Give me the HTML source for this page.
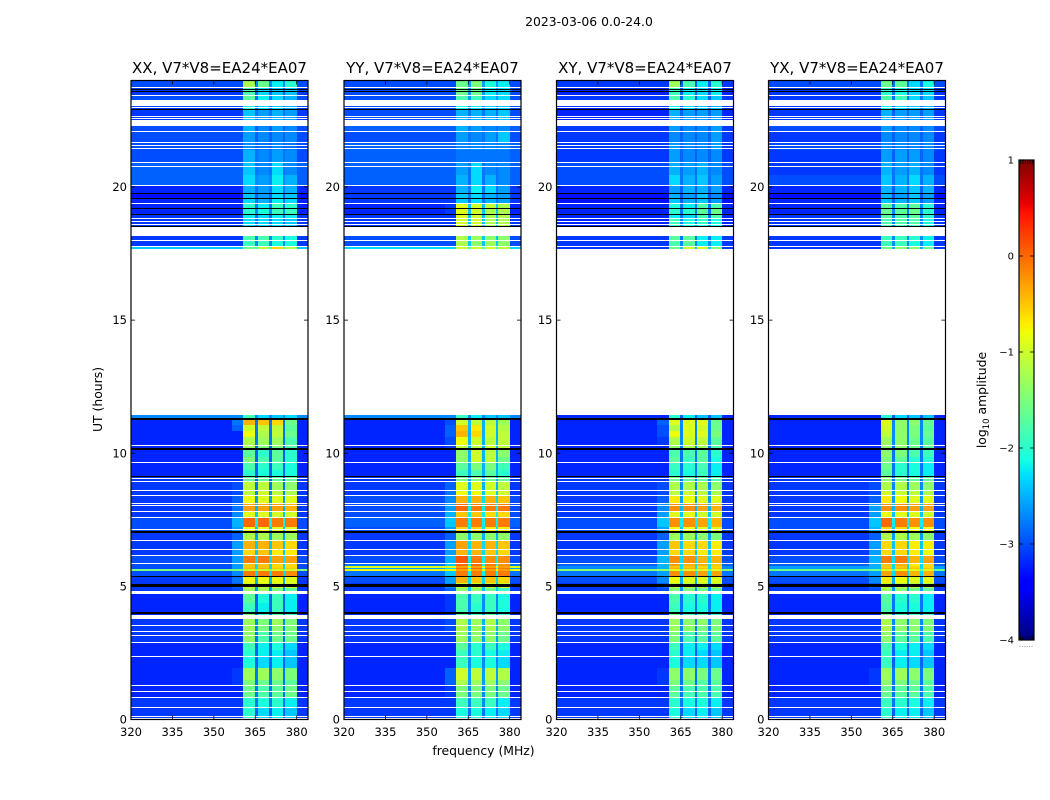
<!DOCTYPE html>
<html lang="en">
<head>
<meta charset="utf-8">
<title>2023-03-06 0.0-24.0</title>
<style>
html,body{margin:0;padding:0;background:#fff;}
svg{display:block;font-family:"DejaVu Sans","Liberation Sans",sans-serif;}
text{fill:#000;}
</style>
</head>
<body>
<svg id="chart" xmlns="http://www.w3.org/2000/svg" width="1050" height="800" viewBox="0 0 1050 800">
<rect x="0" y="0" width="1050" height="800" fill="#fff"/>
<text x="589" y="26" font-size="12.4" text-anchor="middle">2023-03-06 0.0-24.0</text>
<text x="483.5" y="755" font-size="12.4" text-anchor="middle">frequency (MHz)</text>
<text x="0" y="0" font-size="12.4" text-anchor="middle" transform="translate(102,399.5) rotate(-90)">UT (hours)</text>
<text x="0" y="0" font-size="12.4" text-anchor="middle" transform="translate(986,400) rotate(-90)">log<tspan font-size="8.5" dy="3">10</tspan><tspan dy="-3"> amplitude</tspan></text>
<g id="panels"></g>
<g id="colorbar"></g>
</svg>
<script>
// ---- data ----
const panelTitles = ['XX, V7*V8=EA24*EA07','YY, V7*V8=EA24*EA07','XY, V7*V8=EA24*EA07','YX, V7*V8=EA24*EA07'];
const xTickValues = [320,335,350,365,380];
const yTickValues = [0,5,10,15,20];
const colorbarTicks = [1,0,-1,-2,-3,-4];
// frequency column edges in MHz (out of band, ramp, four sub-bands with gaps)
const freqEdges = [320,356.5,360.7,364.9,365.9,370.1,371,375,375.8,380,384.1];
// which amplitude entry of a row each frequency column reads
const zoneOfColumn = [0,1,2,6,3,6,4,6,5,0];
// time row edges in UT hours
const utEdgesUpper = [24.00,23.76,23.46,23.27,23.00,22.89,22.67,22.29,22.07,21.65,21.39,20.90,20.45,20.04,19.77,19.55,19.40,19.17,18.99,18.80,18.50,18.16,18.01,17.75,17.67];
const utEdgesLower = [11.44,11.29,11.06,10.84,10.61,10.31,10.12,9.86,9.63,9.37,9.11,8.92,8.62,8.39,8.13,7.83,7.57,7.23,7.08,7.00,6.70,6.37,6.14,5.84,5.77,5.69,5.64,5.59,5.39,5.13,4.94,4.83,4.71,4.38,4.04,3.92,3.55,3.29,2.91,2.61,2.35,1.93,1.48,1.30,0.85,0.47,0.00];
// no-data (white) time ranges [high, low] UT
const blankRanges = [[23.75,23.72],[23.46,23.43],[23.27,23.04],[23.02,22.99],[22.67,22.64],[22.58,22.55],[22.53,22.29],[22.09,22.06],[21.68,21.65],[21.59,21.56],[21.45,21.42],[20.93,20.90],[20.80,20.77],[20.06,20.03],[19.41,19.38],[18.82,18.79],[18.72,18.69],[18.61,18.58],[18.51,18.16],[18.01,17.98],[17.77,17.74],[17.67,11.44],[10.30,10.27],[10.15,10.12],[9.67,9.64],[9.07,9.04],[8.97,8.94],[8.62,8.59],[8.42,8.39],[8.13,8.10],[8.07,8.04],[7.84,7.81],[7.62,7.57],[7.16,7.13],[6.74,6.71],[6.41,6.38],[6.18,6.15],[5.88,5.85],[4.83,4.71],[3.92,3.78],[3.55,3.52],[3.31,3.28],[3.18,3.15],[2.91,2.88],[2.37,2.34],[1.30,1.27],[1.07,1.04],[0.85,0.82],[0.47,0.44],[0.12,0.09],[0.04,0.01]];
// zero-amplitude (black) time ranges [high, low] UT
const zeroRanges = [[23.67,23.63],[23.61,23.58],[22.92,22.88],[19.77,19.74],[19.57,19.54],[19.20,19.17],[18.99,18.96],[18.54,18.51],[11.31,11.26],[10.20,10.14],[9.14,9.10],[7.08,6.99],[5.39,5.36],[5.09,4.96],[4.04,3.98]];
// log10 amplitude per time row: [out-of-band, ramp, band1, band2, band3, band4, band-gap]
const amplitudeXX = [
[-3.0,-3.0,-1.2,-1.6,-2.2,-2.0,-2.7],[-3.1,-3.1,-1.8,-2.3,-2.4,-2.4,-2.9],[-3.0,-3.0,-1.7,-2.2,-2.3,-2.5,-2.8],[-3.0,-3.0,-2.2,-2.3,-2.4,-2.5,-2.8],
[-3.1,-3.1,-1.9,-2.3,-2.3,-2.5,-2.8],[-3.1,-3.1,-2.4,-2.6,-2.5,-2.6,-2.8],[-3.1,-3.1,-2.4,-2.6,-2.5,-2.6,-2.8],[-3.0,-3.0,-2.5,-2.7,-2.6,-2.7,-2.9],
[-3.0,-3.0,-2.6,-2.7,-2.7,-2.7,-2.9],[-3.0,-3.0,-2.7,-2.8,-2.7,-2.8,-2.9],[-3.0,-3.0,-2.5,-2.7,-2.6,-2.7,-2.8],[-2.9,-2.9,-2.4,-2.7,-2.3,-2.7,-2.8],
[-2.9,-2.9,-2.3,-2.6,-2.2,-2.5,-2.7],[-3.2,-3.2,-2.5,-2.6,-2.3,-2.5,-2.8],[-3.3,-3.3,-2.4,-2.6,-2.3,-2.4,-2.9],[-3.2,-3.2,-2.3,-2.5,-2.2,-2.3,-2.8],
[-3.2,-3.2,-2.0,-2.2,-1.9,-2.0,-2.8],[-3.2,-3.2,-2.0,-2.1,-1.9,-1.9,-2.7],[-3.1,-3.1,-2.2,-2.3,-2.2,-2.2,-2.8],[-3.1,-3.1,-2.3,-2.3,-2.3,-2.4,-2.8],
[-3.1,-3.1,-2.3,-2.3,-2.3,-2.4,-2.8],[-3.1,-3.1,-1.8,-1.8,-2.0,-2.1,-2.7],[-3.1,-3.1,-1.9,-1.9,-2.1,-2.1,-2.7],[-2.4,-2.4,-1.6,-1.1,-0.6,-1.2,-1.8],
[-2.7,-2.7,-1.9,-2.3,-2.4,-2.3,-2.7],[-3.2,-2.8,-0.4,-0.5,-0.6,-1.6,-2.8],[-3.2,-2.9,-1.0,-1.1,-1.1,-1.7,-2.8],[-3.2,-3.2,-0.8,-1.2,-1.1,-1.6,-2.8],
[-3.2,-3.2,-1.2,-1.3,-1.3,-1.8,-2.8],[-3.2,-3.2,-1.3,-1.5,-1.5,-1.8,-2.9],[-3.2,-3.2,-1.7,-2.0,-1.7,-2.0,-2.9],[-3.2,-3.2,-1.5,-1.8,-1.7,-2.0,-2.9],
[-3.2,-3.2,-1.8,-2.0,-1.9,-2.1,-2.9],[-3.2,-3.2,-2.0,-2.1,-2.1,-2.1,-2.9],[-3.1,-3.1,-1.7,-1.7,-1.7,-1.7,-2.9],[-3.1,-3.0,-1.1,-1.1,-1.3,-1.4,-2.8],
[-3.1,-3.0,-1.1,-1.0,-1.1,-1.2,-2.7],[-3.1,-2.9,-0.8,-0.9,-0.9,-0.9,-2.6],[-3.1,-2.8,-0.3,-0.3,-0.3,-0.4,-2.5],[-3.1,-2.7,-0.9,-0.9,-1.0,-1.0,-2.4],
[-3.0,-2.5,0.0,0.0,-0.1,-0.1,-2.2],[-3.0,-2.6,-0.8,-0.8,-0.9,-0.9,-2.4],[-3.2,-3.1,-2.0,-2.0,-2.0,-2.0,-3.0],[-3.1,-2.9,-1.2,-1.2,-1.3,-1.3,-2.6],
[-3.1,-2.6,-0.4,-0.4,-0.5,-0.6,-2.4],[-3.1,-2.6,-0.6,-0.5,-0.7,-0.7,-2.4],[-3.0,-2.6,-0.1,-0.1,-0.3,-0.3,-2.3],[-3.0,-2.6,-0.5,-0.5,-0.6,-0.6,-2.3],
[-3.0,-2.6,-0.5,-0.5,-0.6,-0.6,-2.3],[-3.0,-2.6,-0.4,-0.4,-0.5,-0.5,-2.3],[-1.5,-1.5,-1.0,-1.0,-1.0,-1.0,-1.5],[-3.0,-2.7,-0.1,-0.1,-0.1,-0.2,-2.3],
[-3.1,-2.8,-0.8,-0.8,-0.8,-0.9,-2.5],[-3.1,-2.9,-1.0,-1.0,-1.0,-1.0,-2.6],[-3.1,-3.0,-1.3,-1.3,-1.5,-1.7,-2.6],[-3.1,-3.0,-1.3,-1.3,-1.5,-1.7,-2.6],
[-3.2,-3.2,-1.7,-2.1,-1.9,-2.2,-2.9],[-3.2,-3.2,-1.9,-2.2,-1.9,-2.2,-2.9],[-3.2,-3.2,-1.5,-2.0,-1.7,-1.9,-2.8],[-3.1,-3.1,-1.3,-1.5,-1.3,-1.5,-2.7],
[-3.1,-3.1,-1.3,-1.5,-1.4,-1.5,-2.7],[-3.1,-3.1,-1.4,-1.8,-1.6,-1.6,-2.8],[-3.2,-3.2,-1.9,-2.2,-2.1,-2.3,-2.9],[-3.2,-3.2,-2.0,-2.2,-2.2,-2.4,-2.9],
[-3.2,-3.2,-2.1,-2.3,-2.2,-2.4,-2.9],[-3.2,-3.1,-1.3,-1.3,-1.4,-1.5,-2.8],[-3.2,-3.1,-1.5,-1.6,-1.6,-1.7,-2.8],[-3.2,-3.2,-1.6,-1.8,-1.7,-1.6,-2.8],
[-3.1,-3.1,-2.0,-2.1,-2.0,-2.2,-2.8],[-3.1,-3.1,-2.0,-2.3,-2.2,-2.4,-2.9]
];
const amplitudeYY = [
[-3.0,-3.0,-1.6,-1.5,-2.1,-2.2,-2.6],[-3.0,-3.0,-1.6,-1.6,-2.2,-2.3,-2.6],[-3.0,-3.0,-1.8,-1.9,-2.3,-2.3,-2.6],[-3.0,-3.0,-2.1,-2.2,-2.3,-2.4,-2.7],
[-3.0,-3.0,-2.2,-2.3,-2.4,-2.4,-2.8],[-3.0,-3.0,-2.5,-2.5,-2.5,-2.4,-2.8],[-3.0,-3.0,-2.5,-2.5,-2.5,-2.4,-2.8],[-2.9,-2.9,-2.5,-2.6,-2.7,-2.7,-2.8],
[-3.0,-3.0,-2.6,-2.7,-2.6,-2.4,-2.8],[-2.9,-2.9,-2.7,-2.7,-2.7,-2.7,-2.8],[-2.9,-2.9,-2.8,-2.8,-2.8,-2.8,-2.8],[-2.9,-2.9,-2.6,-2.3,-2.7,-2.7,-2.8],
[-2.9,-2.9,-2.5,-2.3,-2.5,-2.7,-2.8],[-3.1,-3.1,-2.5,-2.2,-2.3,-2.6,-2.8],[-3.1,-3.1,-2.4,-2.3,-2.5,-2.6,-2.8],[-3.1,-3.1,-2.4,-2.3,-2.5,-2.6,-2.8],
[-3.2,-3.1,-0.9,-1.0,-1.1,-1.2,-2.4],[-3.2,-3.1,-0.9,-1.0,-1.2,-1.2,-2.4],[-3.1,-3.1,-0.9,-1.0,-1.2,-1.2,-2.4],[-3.1,-3.1,-1.0,-1.0,-1.2,-1.2,-2.4],
[-3.1,-3.1,-1.0,-1.0,-1.2,-1.2,-2.4],[-3.0,-3.0,-1.2,-1.3,-1.4,-1.4,-2.4],[-3.0,-3.0,-1.2,-1.4,-1.3,-1.4,-2.4],[-2.3,-2.3,-1.0,-1.0,-1.0,-1.1,-1.8],
[-2.7,-2.7,-1.9,-2.2,-2.4,-2.4,-2.7],[-3.2,-3.0,-1.0,-1.1,-1.1,-1.3,-2.5],[-3.2,-2.9,-0.5,-0.7,-1.0,-1.2,-2.5],[-3.2,-2.9,-0.4,-0.6,-1.0,-1.1,-2.5],
[-3.2,-3.0,-0.8,-1.0,-1.1,-1.1,-2.5],[-3.2,-3.1,-1.1,-1.1,-1.0,-1.1,-2.5],[-3.2,-3.2,-1.4,-1.0,-1.1,-1.4,-2.5],[-3.2,-3.2,-1.4,-1.0,-1.1,-1.6,-2.5],
[-3.2,-3.2,-1.7,-1.5,-1.5,-1.9,-2.5],[-3.2,-3.2,-1.9,-1.8,-1.7,-2.0,-2.5],[-3.1,-3.1,-1.6,-1.5,-1.6,-1.7,-2.5],[-3.1,-2.9,-0.9,-0.9,-1.0,-1.1,-2.5],
[-3.1,-2.8,-0.8,-0.8,-0.9,-1.0,-2.4],[-3.0,-2.7,-0.4,-0.4,-0.4,-0.5,-2.3],[-3.0,-2.6,0.0,-0.1,-0.1,-0.1,-2.2],[-3.0,-2.5,-0.5,-0.5,-0.6,-0.6,-2.2],
[-2.9,-2.4,-0.1,-0.1,-0.1,-0.1,-2.2],[-3.0,-2.6,-0.6,-0.6,-0.7,-0.7,-2.3],[-3.2,-3.1,-2.0,-2.0,-2.0,-2.0,-3.0],[-3.1,-2.9,-1.4,-1.4,-1.4,-1.4,-2.5],
[-3.1,-2.6,-0.3,-0.4,-0.4,-0.5,-2.3],[-3.1,-2.6,-0.4,-0.4,-0.5,-0.6,-2.3],[-3.0,-2.5,0.1,-0.1,-0.2,-0.2,-2.2],[-2.8,-2.4,0.0,0.0,-0.1,-0.2,-2.1],
[-0.9,-0.9,-0.3,-0.3,-0.3,-0.3,-0.9],[-2.6,-2.3,0.0,0.0,0.0,-0.1,-2.1],[-0.8,-0.8,-0.3,-0.3,-0.3,-0.3,-0.8],[-2.8,-2.4,-0.1,-0.1,-0.1,-0.1,-2.2],
[-3.0,-2.6,-0.4,-0.5,-0.5,-0.6,-2.3],[-3.1,-2.7,-1.0,-1.0,-1.0,-1.0,-2.4],[-3.1,-2.9,-1.4,-1.4,-1.6,-1.9,-2.4],[-3.1,-2.9,-1.4,-1.4,-1.6,-1.9,-2.4],
[-3.2,-3.1,-1.8,-1.9,-1.9,-2.1,-2.7],[-3.2,-3.1,-1.8,-2.0,-1.9,-2.1,-2.7],[-3.2,-3.1,-1.7,-1.9,-1.7,-1.9,-2.6],[-3.1,-3.0,-1.2,-1.3,-1.2,-1.4,-2.5],
[-3.1,-3.0,-1.2,-1.3,-1.2,-1.4,-2.5],[-3.1,-3.1,-1.3,-1.4,-1.4,-1.6,-2.6],[-3.2,-3.2,-1.7,-2.0,-1.9,-2.1,-2.7],[-3.2,-3.2,-1.9,-2.0,-2.1,-2.2,-2.7],
[-3.2,-3.2,-1.9,-2.1,-2.1,-2.3,-2.7],[-3.2,-2.9,-1.0,-1.1,-1.1,-1.2,-2.6],[-3.2,-2.9,-1.2,-1.3,-1.3,-1.4,-2.6],[-3.2,-3.1,-1.5,-1.5,-1.5,-1.6,-2.7],
[-3.1,-3.1,-1.9,-1.9,-1.9,-2.2,-2.7],[-3.1,-3.1,-2.1,-2.1,-2.2,-2.3,-2.8]
];
const amplitudeXY = [
[-3.1,-3.1,-1.3,-1.8,-2.2,-2.0,-2.9],[-3.2,-3.2,-1.9,-2.2,-2.3,-2.2,-2.9],[-3.1,-3.1,-1.8,-2.0,-2.3,-2.4,-2.9],[-3.1,-3.1,-2.2,-2.3,-2.4,-2.5,-2.9],
[-3.2,-3.2,-2.0,-2.3,-2.3,-2.4,-2.9],[-3.2,-3.2,-2.5,-2.6,-2.6,-2.6,-2.9],[-3.2,-3.2,-2.5,-2.6,-2.6,-2.6,-2.9],[-3.1,-3.1,-2.6,-2.7,-2.7,-2.6,-2.9],
[-3.1,-3.1,-2.7,-2.7,-2.7,-2.6,-2.9],[-3.1,-3.1,-2.6,-2.7,-2.7,-2.6,-2.9],[-3.1,-3.1,-2.6,-2.7,-2.7,-2.7,-2.9],[-3.0,-3.0,-2.5,-2.6,-2.5,-2.7,-2.8],
[-3.0,-3.0,-2.3,-2.5,-2.4,-2.6,-2.8],[-3.2,-3.2,-2.6,-2.5,-2.5,-2.6,-2.9],[-3.3,-3.3,-2.5,-2.6,-2.4,-2.7,-3.0],[-3.3,-3.3,-2.4,-2.5,-2.4,-2.6,-2.9],
[-3.2,-3.2,-2.1,-2.2,-1.8,-1.8,-2.8],[-3.2,-3.2,-2.0,-2.0,-1.7,-1.6,-2.8],[-3.2,-3.2,-2.2,-2.3,-1.9,-1.8,-2.8],[-3.2,-3.2,-1.9,-2.1,-2.0,-2.1,-2.7],
[-3.2,-3.2,-1.9,-2.1,-2.0,-2.1,-2.7],[-3.1,-3.1,-1.7,-1.7,-2.2,-2.2,-2.8],[-3.1,-3.1,-1.8,-1.7,-2.2,-2.2,-2.7],[-3.1,-3.1,-1.6,-1.0,-0.9,-1.5,-2.4],
[-3.2,-3.2,-2.0,-2.2,-2.4,-2.4,-2.9],[-3.2,-2.9,-0.9,-0.9,-0.9,-1.6,-2.7],[-3.2,-3.0,-1.2,-0.9,-1.0,-1.6,-2.7],[-3.2,-3.0,-0.8,-0.9,-0.9,-1.5,-2.7],
[-3.2,-3.1,-1.2,-1.0,-1.1,-1.7,-2.7],[-3.2,-3.2,-1.4,-1.2,-1.3,-1.8,-2.8],[-3.2,-3.2,-1.8,-1.8,-1.7,-2.0,-2.8],[-3.2,-3.2,-1.7,-1.9,-1.7,-2.1,-2.8],
[-3.2,-3.2,-1.9,-2.0,-1.8,-2.2,-2.8],[-3.2,-3.2,-2.0,-2.1,-1.9,-2.2,-2.8],[-3.1,-3.1,-1.6,-1.7,-1.7,-1.8,-2.8],[-3.1,-3.0,-1.2,-1.2,-1.2,-1.4,-2.7],
[-3.1,-3.0,-1.1,-1.0,-1.1,-1.2,-2.6],[-3.1,-2.9,-0.7,-0.8,-0.9,-0.9,-2.6],[-3.1,-2.7,-0.2,-0.2,-0.3,-0.4,-2.5],[-3.1,-2.6,-0.9,-0.9,-1.0,-1.0,-2.4],
[-3.0,-2.4,-0.2,-0.2,-0.3,-0.4,-2.2],[-3.0,-2.6,-0.8,-0.8,-0.9,-0.9,-2.4],[-3.2,-3.1,-2.0,-2.0,-2.0,-2.0,-3.0],[-3.1,-2.9,-1.3,-1.3,-1.4,-1.5,-2.6],
[-3.1,-2.6,-0.5,-0.6,-0.6,-0.7,-2.4],[-3.1,-2.6,-0.6,-0.6,-0.7,-0.7,-2.4],[-3.0,-2.5,-0.2,-0.2,-0.4,-0.4,-2.3],[-2.9,-2.5,-0.3,-0.4,-0.4,-0.5,-2.3],
[-2.7,-2.5,-0.5,-0.5,-0.6,-0.6,-2.3],[-2.7,-2.5,-0.4,-0.4,-0.5,-0.5,-2.3],[-1.4,-1.4,-0.9,-0.9,-0.9,-0.9,-1.4],[-2.8,-2.6,-0.2,-0.2,-0.3,-0.3,-2.3],
[-3.0,-2.7,-0.8,-0.9,-0.9,-0.9,-2.5],[-3.1,-2.9,-1.1,-1.1,-1.1,-1.1,-2.6],[-3.1,-3.0,-1.5,-1.5,-1.6,-1.7,-2.6],[-3.1,-3.0,-1.5,-1.5,-1.6,-1.7,-2.6],
[-3.2,-3.2,-1.8,-2.0,-2.0,-2.2,-2.8],[-3.2,-3.2,-1.9,-2.1,-2.1,-2.2,-2.8],[-3.2,-3.2,-1.6,-1.9,-1.8,-1.9,-2.8],[-3.1,-3.1,-1.3,-1.4,-1.4,-1.5,-2.7],
[-3.1,-3.1,-1.3,-1.4,-1.5,-1.5,-2.7],[-3.1,-3.1,-1.5,-1.8,-1.7,-1.7,-2.8],[-3.2,-3.2,-1.9,-2.2,-2.2,-2.3,-2.9],[-3.2,-3.2,-2.0,-2.2,-2.3,-2.4,-2.9],
[-3.2,-3.2,-2.1,-2.3,-2.3,-2.4,-2.9],[-3.2,-3.1,-1.4,-1.4,-1.5,-1.6,-2.8],[-3.2,-3.1,-1.5,-1.6,-1.7,-1.7,-2.8],[-3.2,-3.2,-1.7,-1.8,-1.8,-1.8,-2.8],
[-3.1,-3.1,-2.0,-2.1,-2.1,-2.2,-2.8],[-3.1,-3.1,-2.1,-2.3,-2.2,-2.4,-2.9]
];
const amplitudeYX = [
[-3.0,-3.0,-1.6,-1.7,-2.3,-2.1,-2.8],[-3.1,-3.1,-2.0,-2.1,-2.3,-2.3,-2.8],[-3.1,-3.1,-1.8,-1.9,-2.3,-2.4,-2.8],[-3.1,-3.1,-2.2,-2.3,-2.4,-2.5,-2.8],
[-3.1,-3.1,-2.1,-2.3,-2.4,-2.5,-2.8],[-3.1,-3.1,-2.5,-2.6,-2.6,-2.6,-2.9],[-3.1,-3.1,-2.5,-2.6,-2.6,-2.6,-2.9],[-3.0,-3.0,-2.6,-2.7,-2.7,-2.7,-2.9],
[-3.1,-3.1,-2.7,-2.7,-2.7,-2.7,-2.9],[-3.0,-3.0,-2.7,-2.7,-2.7,-2.7,-2.9],[-3.1,-3.1,-2.6,-2.6,-2.6,-2.7,-2.9],[-3.1,-3.1,-2.5,-2.6,-2.5,-2.7,-2.8],
[-3.0,-3.0,-2.4,-2.5,-2.3,-2.5,-2.8],[-3.2,-3.2,-2.5,-2.5,-2.4,-2.5,-2.9],[-3.3,-3.3,-2.5,-2.6,-2.4,-2.6,-3.0],[-3.2,-3.2,-2.4,-2.5,-2.4,-2.6,-2.9],
[-3.2,-3.2,-1.7,-1.8,-1.7,-2.0,-2.7],[-3.2,-3.2,-1.6,-1.7,-1.6,-2.0,-2.7],[-3.1,-3.1,-1.7,-1.8,-1.7,-2.0,-2.7],[-3.1,-3.1,-1.8,-1.8,-1.8,-2.1,-2.7],
[-3.1,-3.1,-1.8,-1.8,-1.8,-2.1,-2.7],[-3.1,-3.1,-1.9,-1.9,-2.0,-2.2,-2.7],[-3.1,-3.1,-1.9,-1.9,-2.1,-2.2,-2.7],[-3.1,-3.1,-1.6,-1.4,-1.4,-1.6,-2.5],
[-3.2,-3.2,-2.0,-2.3,-2.4,-2.4,-2.9],[-3.2,-3.2,-0.9,-1.4,-1.4,-1.6,-2.7],[-3.2,-3.2,-1.0,-1.4,-1.5,-1.7,-2.7],[-3.2,-3.2,-1.1,-1.4,-1.5,-1.6,-2.7],
[-3.2,-3.2,-1.3,-1.4,-1.6,-1.7,-2.7],[-3.2,-3.2,-1.4,-1.4,-1.6,-1.7,-2.8],[-3.2,-3.2,-1.4,-1.5,-1.8,-1.9,-2.8],[-3.2,-3.2,-1.5,-1.7,-2.0,-2.0,-2.8],
[-3.2,-3.2,-1.6,-2.0,-2.1,-2.2,-2.8],[-3.2,-3.2,-1.7,-2.0,-2.1,-2.2,-2.8],[-3.1,-3.1,-1.4,-1.6,-1.7,-1.7,-2.8],[-3.1,-3.0,-1.2,-1.2,-1.3,-1.4,-2.7],
[-3.1,-3.0,-1.0,-1.0,-1.1,-1.2,-2.6],[-3.1,-2.9,-0.7,-0.8,-0.9,-0.9,-2.6],[-3.1,-2.6,-0.2,-0.2,-0.3,-0.3,-2.5],[-3.1,-2.6,-0.8,-0.9,-0.9,-1.0,-2.4],
[-3.0,-2.4,0.0,-0.1,-0.2,-0.2,-2.2],[-3.0,-2.5,-0.6,-0.6,-0.8,-0.8,-2.4],[-3.2,-3.1,-2.0,-2.0,-2.0,-2.0,-3.0],[-3.1,-2.9,-1.2,-1.2,-1.3,-1.4,-2.6],
[-3.1,-2.6,-0.6,-0.6,-0.7,-0.7,-2.4],[-3.1,-2.6,-0.6,-0.6,-0.7,-0.8,-2.4],[-3.0,-2.5,-0.1,-0.1,-0.4,-0.3,-2.3],[-2.9,-2.5,-0.5,-0.4,-0.7,-0.6,-2.3],
[-2.6,-2.5,-0.5,-0.5,-0.6,-0.6,-2.3],[-2.6,-2.5,-0.4,-0.4,-0.5,-0.5,-2.3],[-1.6,-1.6,-0.9,-0.9,-0.9,-0.9,-1.6],[-2.8,-2.6,-0.3,-0.2,-0.4,-0.4,-2.3],
[-3.0,-2.7,-0.7,-0.8,-0.9,-0.9,-2.5],[-3.1,-2.9,-1.0,-1.1,-1.1,-1.1,-2.6],[-3.1,-3.0,-1.3,-1.4,-1.6,-1.7,-2.6],[-3.1,-3.0,-1.3,-1.4,-1.6,-1.7,-2.6],
[-3.2,-3.2,-1.7,-2.0,-2.0,-2.2,-2.8],[-3.2,-3.2,-1.8,-2.1,-2.1,-2.2,-2.8],[-3.2,-3.2,-1.5,-1.9,-1.8,-1.9,-2.8],[-3.1,-3.1,-1.2,-1.4,-1.4,-1.5,-2.7],
[-3.1,-3.1,-1.2,-1.4,-1.4,-1.5,-2.7],[-3.1,-3.1,-1.4,-1.7,-1.7,-1.8,-2.8],[-3.2,-3.2,-1.8,-2.1,-2.2,-2.3,-2.9],[-3.2,-3.2,-1.9,-2.2,-2.2,-2.4,-2.9],
[-3.2,-3.2,-1.9,-2.2,-2.3,-2.4,-2.9],[-3.2,-3.1,-1.3,-1.3,-1.4,-1.5,-2.8],[-3.2,-3.1,-1.4,-1.5,-1.6,-1.7,-2.8],[-3.2,-3.2,-1.6,-1.7,-1.7,-1.8,-2.8],
[-3.1,-3.1,-1.9,-2.0,-2.1,-2.2,-2.8],[-3.1,-3.1,-2.0,-2.2,-2.2,-2.4,-2.9]
];

// ---- layout and axes ----
const NS = 'http://www.w3.org/2000/svg';
const panelLefts = [131,344,556.5,768.5];
const panelWidth = 177;
const plotTop = 80.5, plotBottom = 719.5;
const freqMin = 320, freqMax = 384.1, utMin = 0, utMax = 24;
const cbLeft = 1019, cbRight = 1034, cbTop = 160, cbBottom = 640, cbMin = -4, cbMax = 1;

function xScale(left, mhz){ return left + (mhz - freqMin) / (freqMax - freqMin) * panelWidth; }
function yScale(ut){ return plotBottom - (ut - utMin) / (utMax - utMin) * (plotBottom - plotTop); }
function cbScale(v){ return cbBottom - (v - cbMin) / (cbMax - cbMin) * (cbBottom - cbTop); }

function lerpStops(t, stops){
  for (let i = 1; i < stops.length; i++) {
    if (t <= stops[i][0]) {
      const a = stops[i-1], b = stops[i];
      return a[1] + (b[1] - a[1]) * (t - a[0]) / (b[0] - a[0]);
    }
  }
  return stops[stops.length-1][1];
}
const jetR = [[0,0],[0.35,0],[0.66,1],[0.89,1],[1,0.5]];
const jetG = [[0,0],[0.125,0],[0.375,1],[0.64,1],[0.91,0],[1,0]];
const jetB = [[0,0.5],[0.11,1],[0.34,1],[0.65,0],[1,0]];
function jet(v){
  const t = Math.max(0, Math.min(1, (v - cbMin) / (cbMax - cbMin)));
  return 'rgb(' + Math.round(255*lerpStops(t,jetR)) + ',' + Math.round(255*lerpStops(t,jetG)) + ',' + Math.round(255*lerpStops(t,jetB)) + ')';
}
function shape(parent, tag, attrs){
  const el = document.createElementNS(NS, tag);
  for (const k in attrs) el.setAttribute(k, attrs[k]);
  parent.appendChild(el);
  return el;
}

const panelsGroup = document.getElementById('panels');
const allAmplitudes = [amplitudeXX, amplitudeYY, amplitudeXY, amplitudeYX];
const panelKeys = ['xx','yy','xy','yx'];
const rowSpans = [];
for (let i = 0; i + 1 < utEdgesUpper.length; i++) rowSpans.push([utEdgesUpper[i], utEdgesUpper[i+1]]);
for (let i = 0; i + 1 < utEdgesLower.length; i++) rowSpans.push([utEdgesLower[i], utEdgesLower[i+1]]);

function drawBand(group, left, range, fill, name){
  const y0 = Math.round(yScale(range[0]));
  const y1 = Math.round(yScale(range[1]));
  const r = shape(group, 'rect', {x:left, y:y0, width:panelWidth, height:Math.max(1, y1 - y0), fill:fill, 'shape-rendering':'crispEdges'});
  
  
}

panelTitles.forEach(function(title, p){
  const left = panelLefts[p];
  const group = shape(panelsGroup, 'g', {});
  
  

  const heat = shape(group, 'g', {});
  
  
  allAmplitudes[p].forEach(function(row, r){
    const y0 = Math.round(yScale(rowSpans[r][0]));
    const y1 = Math.round(yScale(rowSpans[r][1]));
    zoneOfColumn.forEach(function(zone, c){
      const x0 = Math.round(xScale(left, freqEdges[c]));
      const x1 = Math.round(xScale(left, freqEdges[c+1]));
      const cell = shape(heat, 'rect', {x:x0, y:y0, width:x1-x0, height:y1-y0, fill:jet(row[zone]), 'shape-rendering':'crispEdges'});
      
      
    });
  });
  blankRanges.forEach(function(range){ drawBand(group, left, range, '#fff', 'no-data-gap'); });
  zeroRanges.forEach(function(range){ drawBand(group, left, range, '#000', 'zero-amplitude-row'); });

  const frame = shape(group, 'rect', {x:left, y:plotTop, width:panelWidth, height:plotBottom-plotTop, fill:'none', stroke:'#000', 'stroke-width':1.2});
  
  

  const titleEl = shape(group, 'text', {x:left+panelWidth/2, y:73, 'font-size':15, 'text-anchor':'middle'});
  titleEl.textContent = title;
  
  

  xTickValues.forEach(function(v){
    const x = xScale(left, v);
    const bottomTick = shape(group, 'line', {x1:x, x2:x, y1:plotBottom, y2:plotBottom-4, stroke:'#000', 'stroke-width':0.8});
    
    
    const topTick = shape(group, 'line', {x1:x, x2:x, y1:plotTop, y2:plotTop+4, stroke:'#000', 'stroke-width':0.8});
    
    
    const label = shape(group, 'text', {x:x, y:736, 'font-size':11.5, 'text-anchor':'middle'});
    label.textContent = String(v);
    
    
  });
  yTickValues.forEach(function(v){
    const y = yScale(v);
    const leftTick = shape(group, 'line', {x1:left, x2:left+4, y1:y, y2:y, stroke:'#000', 'stroke-width':0.8});
    
    
    const rightTick = shape(group, 'line', {x1:left+panelWidth, x2:left+panelWidth-4, y1:y, y2:y, stroke:'#000', 'stroke-width':0.8});
    
    
    const label = shape(group, 'text', {x:left-4, y:y+4, 'font-size':11.5, 'text-anchor':'end'});
    label.textContent = String(v);
    
    
  });
});

// ---- colorbar ----
const cb = document.getElementById('colorbar');
for (let py = cbTop; py < cbBottom; py += 2) {
  const v = cbMax - (py + 1 - cbTop) / (cbBottom - cbTop) * (cbMax - cbMin);
  const seg = shape(cb, 'rect', {x:cbLeft, y:py, width:cbRight-cbLeft, height:2, fill:jet(v), 'shape-rendering':'crispEdges'});
  
  
}
const cbFrame = shape(cb, 'rect', {x:cbLeft, y:cbTop, width:cbRight-cbLeft, height:cbBottom-cbTop, fill:'none', stroke:'#000', 'stroke-width':1.2});


colorbarTicks.forEach(function(v){
  const y = cbScale(v);
  const tl = shape(cb, 'line', {x1:cbLeft, x2:cbLeft+4, y1:y, y2:y, stroke:'#000', 'stroke-width':0.8});
  
  
  const tr = shape(cb, 'line', {x1:cbRight, x2:cbRight-4, y1:y, y2:y, stroke:'#000', 'stroke-width':0.8});
  
  
  const label = shape(cb, 'text', {x:cbLeft-5, y:y+3.5, 'font-size':10, 'text-anchor':'end'});
  label.textContent = v < 0 ? '\u2212' + Math.abs(v) : String(v);
  
  
});
for (let i = 0; i < 6; i++) {
  const x = cbLeft + 1.5 + i * 2.4;
  const topT = shape(cb, 'line', {x1:x, x2:x, y1:cbTop, y2:cbTop+4, stroke:'#000', 'stroke-width':0.7});
  
  
  const botT = shape(cb, 'line', {x1:x, x2:x, y1:cbBottom, y2:cbBottom-4, stroke:'#000', 'stroke-width':0.7});
  
  
  const dot = shape(cb, 'rect', {x:x-1, y:646, width:1, height:1, fill:'#999'});
  
  
}
</script>
</body>
</html>
